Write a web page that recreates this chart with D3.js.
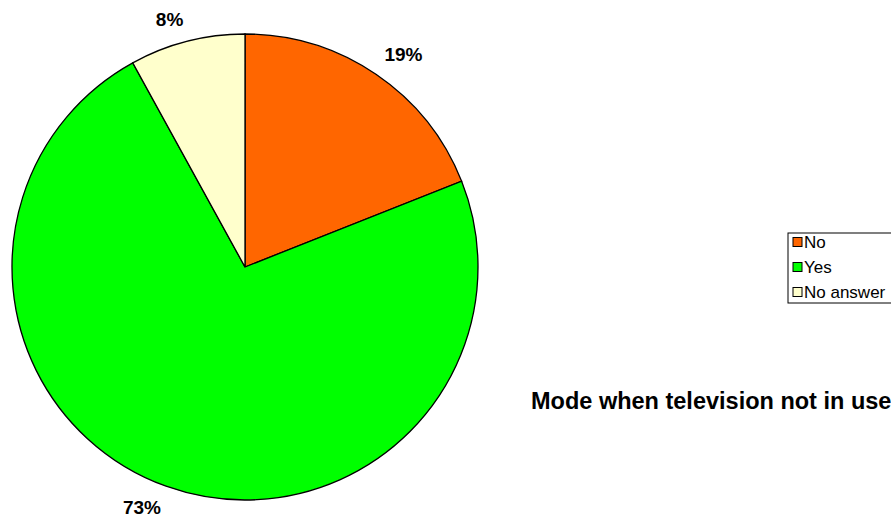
<!DOCTYPE html>
<html>
<head>
<meta charset="utf-8">
<script src="https://cdn.jsdelivr.net/npm/d3@7"></script>
<style>
  body { margin: 0; background: #fff; }
  text { font-family: "Liberation Sans", Arial, sans-serif; }
</style>
</head>
<body>
<svg id="chart" width="891" height="518"></svg>
<script>
// chart data
var categories = ["No", "Yes", "No answer"];
var values = [19, 73, 8];
var colors = ["#FF6600", "#00FF00", "#FFFFCC"];
var title = "Mode when television not in use";

var svg = d3.select("#chart"),
    cx = 245, cy = 267, radius = 233;

var pie = d3.pie().sort(null).value(function(d) { return d; });
var arc = d3.arc().innerRadius(0).outerRadius(radius);
var labelArc = d3.arc().innerRadius(248).outerRadius(248);

var g = svg.append("g")
    .attr("transform", "translate(" + cx + "," + cy + ")");

var slices = pie(values);

g.selectAll(".slice")
  .data(slices)
  .enter().append("path")
    .attr("class", "slice")
    .attr("d", arc)
    .attr("fill", function(d, i) { return colors[i]; })
    .attr("stroke", "#000")
    .attr("stroke-width", 1.3);

// labels sit with their nearest corner just outside the pie
g.selectAll(".lbl")
  .data(slices)
  .enter().append("text")
    .attr("class", "lbl")
    .attr("text-anchor", "middle")
    .attr("dominant-baseline", "central")
    .style("font-size", "19px")
    .style("font-weight", "bold")
    .text(function(d) { return d.data + "%"; })
    .each(function(d) {
      var c = labelArc.centroid(d),
          hw = this.getComputedTextLength() / 2;
      d3.select(this)
        .attr("x", c[0] + (c[0] > 0 ? hw : -hw))
        .attr("y", c[1] + (c[1] > 0 ? 7 : -7));
    });

// legend
var legend = svg.append("g").attr("transform", "translate(788,233)");
legend.append("rect")
    .attr("x", 0).attr("y", 0)
    .attr("width", 130).attr("height", 70)
    .attr("fill", "#fff")
    .attr("stroke", "#000")
    .attr("stroke-width", 1);

var item = legend.selectAll(".item")
  .data(categories)
  .enter().append("g")
    .attr("class", "item")
    .attr("transform", function(d, i) { return "translate(5," + (9 + i * 25) + ")"; });

item.append("rect")
    .attr("x", 0).attr("y", -4.5)
    .attr("width", 9).attr("height", 9)
    .attr("fill", function(d, i) { return colors[i]; })
    .attr("stroke", "#000")
    .attr("stroke-width", 1);

item.append("text")
    .attr("x", 11)
    .attr("y", 0)
    .attr("dominant-baseline", "central")
    .style("font-size", "17px")
    .text(function(d) { return d; });

svg.append("text")
    .attr("x", 531)
    .attr("y", 401)
    .attr("dominant-baseline", "central")
    .style("font-size", "23.5px")
    .style("font-weight", "bold")
    .text(title);
</script>
</body>
</html>
